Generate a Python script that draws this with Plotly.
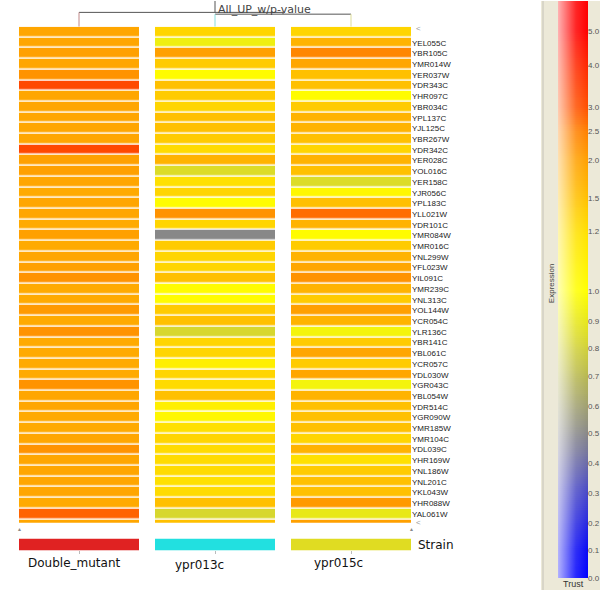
import numpy as np
import plotly.graph_objects as go

genes = ['YEL055C', 'YBR105C', 'YMR014W', 'YER037W', 'YDR343C', 'YHR097C',
         'YBR034C', 'YPL137C', 'YJL125C', 'YBR267W', 'YDR342C', 'YER028C',
         'YOL016C', 'YER158C', 'YJR056C', 'YPL183C', 'YLL021W', 'YDR101C',
         'YMR084W', 'YMR016C', 'YNL299W', 'YFL023W', 'YIL091C', 'YMR239C',
         'YNL313C', 'YOL144W', 'YCR054C', 'YLR136C', 'YBR141C', 'YBL061C',
         'YCR057C', 'YDL030W', 'YGR043C', 'YBL054W', 'YDR514C', 'YGR090W',
         'YMR185W', 'YMR104C', 'YDL039C', 'YHR169W', 'YNL186W', 'YNL201C',
         'YKL043W', 'YHR088W', 'YAL061W']
# one unlabeled row above and below the gene rows
rows = [''] + genes + ['']

strains = ['Double_mutant', 'ypr013c', 'ypr015c']
strain_colors = ['#e02222', '#22e0e0', '#e0dc22']

double_mutant = [1.9, 1.9, 2.0, 1.9, 2.2, 3.2, 1.9, 1.9, 1.9, 1.9, 1.9, 3.2,
                 2.0, 2.0, 1.9, 1.85, 1.9, 1.9, 1.85, 2.0, 1.85, 1.9, 2.0, 2.2,
                 1.85, 1.85, 2.1, 1.85, 2.2, 1.85, 1.85, 1.85, 1.85, 2.2, 1.9,
                 1.9, 1.85, 1.85, 1.9, 2.2, 1.9, 1.9, 1.9, 1.9, 1.85, 2.8, 1.9]
ypr013c = [1.3, 0.93, 2.0, 1.4, 1.02, 1.5, 1.4, 1.3, 1.5, 1.5, 1.4, 1.25,
           1.7, 0.85, 1.2, 1.3, 1.02, 2.2, 1.3, 0.5, 1.4, 1.3, 1.3, 1.5,
           1.02, 1.02, 1.4, 1.5, 0.83, 1.3, 1.3, 1.1, 1.3, 1.25, 1.5, 1.1,
           1.05, 1.2, 1.3, 1.25, 1.25, 1.25, 1.2, 1.25, 1.5, 0.83, 1.5]
ypr015c = [1.3, 1.7, 2.4, 1.9, 1.5, 1.5, 1.02, 1.4, 1.7, 1.7, 1.5, 1.3,
           1.7, 1.5, 0.85, 1.05, 1.5, 2.7, 1.7, 1.02, 1.4, 1.7, 1.9, 2.2,
           1.7, 1.4, 2.0, 1.7, 0.95, 1.4, 1.9, 1.4, 1.9, 0.95, 1.7, 1.5,
           1.5, 1.5, 1.3, 1.7, 1.2, 1.4, 1.5, 1.5, 2.1, 0.9, 2.0]

# expression legend: value, height on the bar (px from bottom), colour
legend_vals = [0.0, 0.1, 0.2, 0.3, 0.4, 0.5, 0.6, 0.7, 0.8, 0.9, 1.0,
               1.2, 1.5, 2.0, 2.5, 3.0, 4.0, 5.0, 5.85]
legend_pos = [0, 28, 56, 86, 116, 146, 174, 204, 232, 260, 290,
              350, 384, 422, 451, 476, 518, 553, 583]
legend_cols = ['#0000ff', '#0a0af5', '#2828e0', '#4848c8', '#6a6aa8', '#888888',
               '#a0a070', '#b8b850', '#d0d038', '#e8e818', '#ffff00',
               '#ffe000', '#ffc000', '#ffa000', '#ff8000', '#ff5000',
               '#ff2800', '#ff0000', '#ff0000']

# dendrogram merge heights (px from top)
root_height = 11.5
node_height = 13.3

W, H = 600, 595
TOP = legend_pos[-1]


def px(x):
    return x / W


def py(y):
    return 1 - y / H


def to_pos(v):
    return np.interp(v, legend_vals, legend_pos)


cscale = [[p / TOP, c] for p, c in zip(legend_pos, legend_cols)]
z = to_pos(np.array([double_mutant, ypr013c, ypr015c]).T)

fig = go.Figure()
fig.add_heatmap(z=z, x=[0, 1, 2], y=list(range(len(rows))), zmin=0, zmax=TOP,
                colorscale=cscale, showscale=False, xgap=16, ygap=1.5,
                xaxis='x', yaxis='y')
fig.add_heatmap(z=[[0, 1, 2]], x=[0, 1, 2], y=[0], zmin=0, zmax=2,
                colorscale=[[0, strain_colors[0]], [0.5, strain_colors[1]],
                            [1, strain_colors[2]]],
                showscale=False, xgap=16, xaxis='x', yaxis='y2')

# dendrogram
fig.add_scatter(x=[1, 1, None, 0, 1.5, 1.5, None, 1, 2],
                y=[0, root_height, None, root_height, root_height, node_height,
                   None, node_height, node_height],
                mode='lines', line=dict(color='#555555', width=1),
                xaxis='x', yaxis='y3', hoverinfo='skip')
for i, c in enumerate(['#c08888', '#88dddd', '#dddd99']):
    h = root_height if i == 0 else node_height
    fig.add_scatter(x=[i, i], y=[h, 26], mode='lines',
                    line=dict(color=c, width=1),
                    xaxis='x', yaxis='y3', hoverinfo='skip')

# legend bar
bar = np.linspace(0, TOP, 300)
fig.add_heatmap(z=bar.reshape(-1, 1), y=bar, x=[0.5], zmin=0, zmax=TOP,
                colorscale=cscale, showscale=False, xaxis='x4', yaxis='y4')
fig.add_scatter(x=[0, 1, 1, 0, 0], y=[0, 0, TOP, TOP, 0], mode='lines',
                fill='toself', line=dict(width=0),
                fillgradient=dict(type='horizontal', colorscale=[
                    [0, 'rgba(255,255,255,0.7)'], [0.6, 'rgba(255,255,255,0.15)'],
                    [1, 'rgba(255,255,255,0)']]),
                xaxis='x4', yaxis='y4', hoverinfo='skip')

n = len(rows)
fig.update_layout(
    width=W, height=H, margin=dict(l=0, r=0, t=0, b=0),
    paper_bgcolor='white', plot_bgcolor='rgba(0,0,0,0)', showlegend=False,
    font=dict(family='Liberation Sans', color='#333333'),
    xaxis=dict(domain=[px(11), px(411)], range=[-0.5, 2.5 - 8 / 136],
               anchor='y2', showgrid=False, zeroline=False,
               tickvals=[0, 1, 2], showticklabels=False, ticks='outside',
               ticklen=3, tickcolor='#bbbbbb'),
    yaxis=dict(domain=[py(527), py(26)], range=[n - 1.18, -0.5],
               anchor='x', side='right', showgrid=False, zeroline=False,
               tickvals=list(range(1, n - 1)), ticktext=genes, ticks='',
               tickfont=dict(size=8, color='#222222')),
    yaxis2=dict(domain=[py(555), py(543)], range=[-0.5, 0.5], anchor='x',
                side='right', showgrid=False, zeroline=False,
                tickvals=[0], ticktext=['Strain'], ticks='',
                ticklabelstandoff=6,
                tickfont=dict(family='DejaVu Sans', size=12, color='#111111')),
    yaxis3=dict(domain=[py(26), 1], range=[26, 0], anchor='x', visible=False),
    xaxis4=dict(domain=[px(558), px(588)], range=[0, 1], anchor='y4',
                visible=False),
    yaxis4=dict(domain=[py(583), 1], range=[0, TOP], anchor='x4',
                side='right', showgrid=False, zeroline=False, ticks='',
                ticklabelstandoff=-1,
                tickvals=legend_pos[:-1],
                ticktext=['%.1f' % v for v in legend_vals[:-1]],
                tickfont=dict(size=8, color='#555555')),
)

# side panel behind the legend
fig.add_shape(type='rect', xref='paper', yref='paper', x0=px(541), x1=1,
              y0=0, y1=1, fillcolor='#ece9d8', line_width=0, layer='below')
fig.add_shape(type='line', xref='paper', yref='paper', x0=px(543), x1=px(543),
              y0=0, y1=1, line=dict(color='#c4c2b8', width=1), layer='below')

fig.add_annotation(text='All_UP_w/p-value', xref='x', yref='paper', x=1,
                   y=1, xanchor='left', yanchor='top', xshift=1, showarrow=False,
                   font=dict(family='DejaVu Sans', size=11, color='#444444'))
for i, (s, dx, yy) in enumerate(zip(strains, [-5, -16, -13], [568, 570, 568])):
    fig.add_annotation(text=s, xref='x', yref='paper', x=i, y=py(yy),
                       xshift=dx, xanchor='center', yanchor='middle',
                       showarrow=False,
                       font=dict(family='DejaVu Sans', size=12, color='#111111'))
for yy in [28, 527]:
    fig.add_annotation(text='<', xref='paper', yref='paper', x=px(414),
                       y=py(yy), xanchor='left', yanchor='middle',
                       showarrow=False, font=dict(size=8, color='#999999'))
# small resize handles under the first and last column
for xx in [19, 411]:
    fig.add_annotation(text='▲', xref='paper', yref='paper', x=px(xx),
                       y=py(533), xanchor='center', yanchor='middle',
                       showarrow=False, font=dict(size=5, color='#888888'))
fig.add_annotation(text='Expression', xref='paper', yref='paper', x=px(551),
                   y=py(285), xanchor='center', yanchor='middle',
                   textangle=-90, showarrow=False,
                   font=dict(size=8, color='#444444'))
fig.add_annotation(text='Trust', xref='paper', yref='paper', x=px(573),
                   y=py(589), xanchor='center', yanchor='middle',
                   showarrow=False, font=dict(size=9, color='#333333'))

# the page body has a default margin; drop it so the figure sits at 0,0
fig.write_html('out.html', config={'displayModeBar': False},
               post_script="document.body.style.margin='0';")
